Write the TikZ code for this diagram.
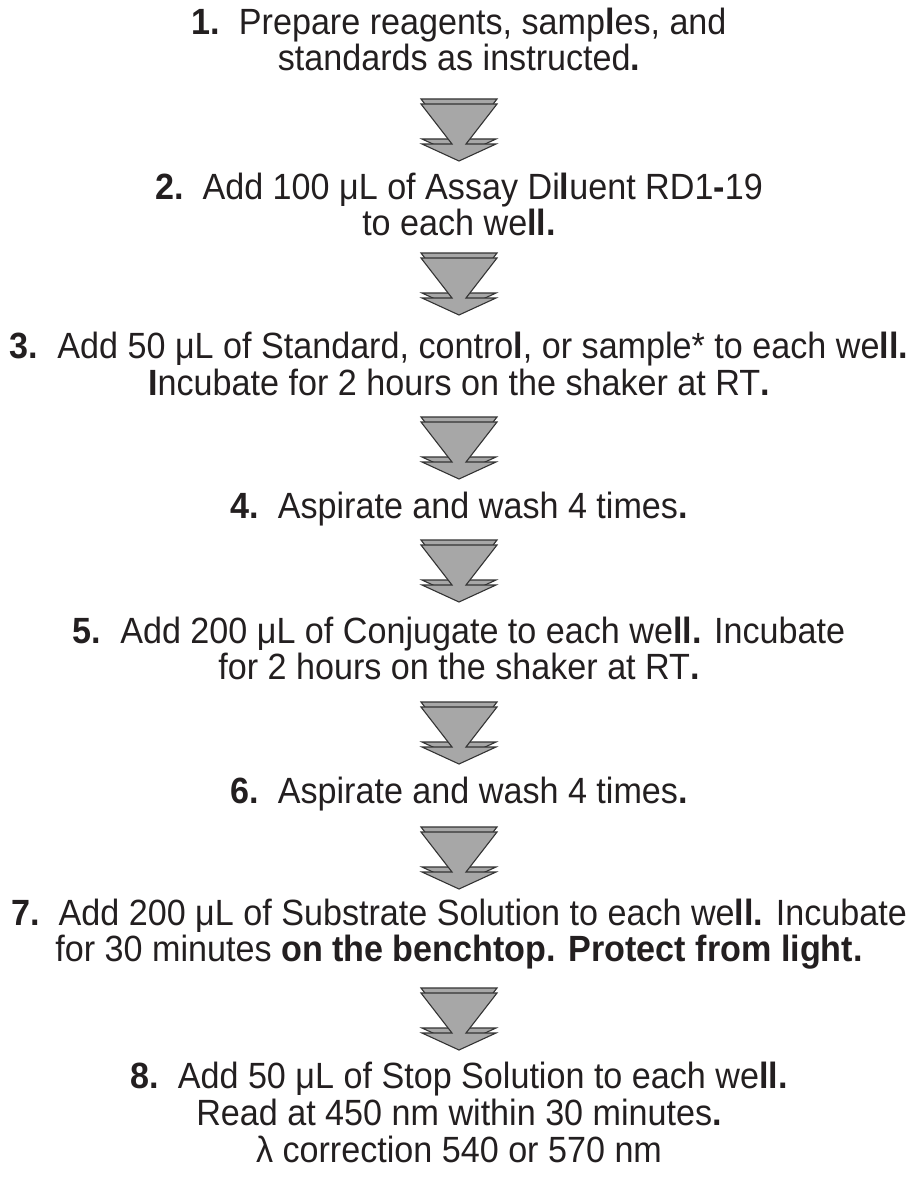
\documentclass[tikz,border=0pt]{standalone}
\usepackage{fontspec}
\setmainfont[FakeStretch=0.935]{Liberation Sans}
\definecolor{txt}{HTML}{231F20}
\definecolor{arrowfill}{HTML}{A7A7A7}
\definecolor{arrowline}{HTML}{333333}
\newcommand{\B}[1]{\textbf{#1}}
\tikzset{
  steptext/.style={font=\fontsize{36.5}{37}\selectfont, text=txt, anchor=base, inner sep=0pt},
  arrowshape/.style={fill=arrowfill, draw=arrowline, line width=1.1pt, line join=miter},
  flowarrow/.pic={
    \path[arrowshape] (-38,0) -- (38,0) -- (7,40) -- (37,40) -- (0,57) -- (-37,40) -- (-7,40) -- cycle;
    \path[arrowshape] (-38,5) -- (38,5) -- (7,45) -- (37,45) -- (0,62) -- (-37,45) -- (-7,45) -- cycle;
  }
}
\begin{document}
\begin{tikzpicture}[x=1pt,y=-1pt]
\useasboundingbox (0,0) rectangle (918,1180);
% step texts
\node[steptext] (s1a) at (459,35) {\B{1.}\ \ Prepare reagents, samp\B{l}es, and};
\node[steptext] (s1b) at (459,71) {standards as instructed\B{.}};
\node[steptext] (s2a) at (459,199) {\B{2.}\ \ Add 100 μL of Assay Di\B{l}uent RD1\B{-}19};
\node[steptext] (s2b) at (459,235) {to each we\B{ll.}};
\node[steptext] (s3a) at (459,358) {\B{3.}\ \ Add 50 μL of Standard, contro\B{l}, or sample* to each we\B{ll.}};
\node[steptext] (s3b) at (459,395) {\B{I}ncubate for 2 hours on the shaker at RT\B{.}};
\node[steptext] (s4) at (459,518) {\B{4.}\ \ Aspirate and wash 4 times\B{.}};
\node[steptext] (s5a) at (459,643) {\B{5.}\ \ Add 200 μL of Conjugate to each we\B{ll.} Incubate};
\node[steptext] (s5b) at (459,679) {for 2 hours on the shaker at RT\B{.}};
\node[steptext] (s6) at (459,803) {\B{6.}\ \ Aspirate and wash 4 times\B{.}};
\node[steptext] (s7a) at (459,925) {\B{7.}\ \ Add 200 μL of Substrate Solution to each we\B{ll.} Incubate};
\node[steptext] (s7b) at (459,961) {for 30 minutes \B{on the benchtop. Protect from light.}};
\node[steptext] (s8a) at (459,1088) {\B{8.}\ \ Add 50 μL of Stop Solution to each we\B{ll.}};
\node[steptext] (s8b) at (459,1125) {Read at 450 nm within 30 minutes\B{.}};
\node[steptext] (s8c) at (459,1162) {λ correction 540 or 570 nm};
% arrows between steps
\coordinate (a1) at (459,99);
\coordinate (a2) at (459,253);
\coordinate (a3) at (459,417);
\coordinate (a4) at (459,540);
\coordinate (a5) at (459,702);
\coordinate (a6) at (459,827);
\coordinate (a7) at (459,988);
\pic at (a1) {flowarrow};
\pic at (a2) {flowarrow};
\pic at (a3) {flowarrow};
\pic at (a4) {flowarrow};
\pic at (a5) {flowarrow};
\pic at (a6) {flowarrow};
\pic at (a7) {flowarrow};
\end{tikzpicture}
\end{document}
